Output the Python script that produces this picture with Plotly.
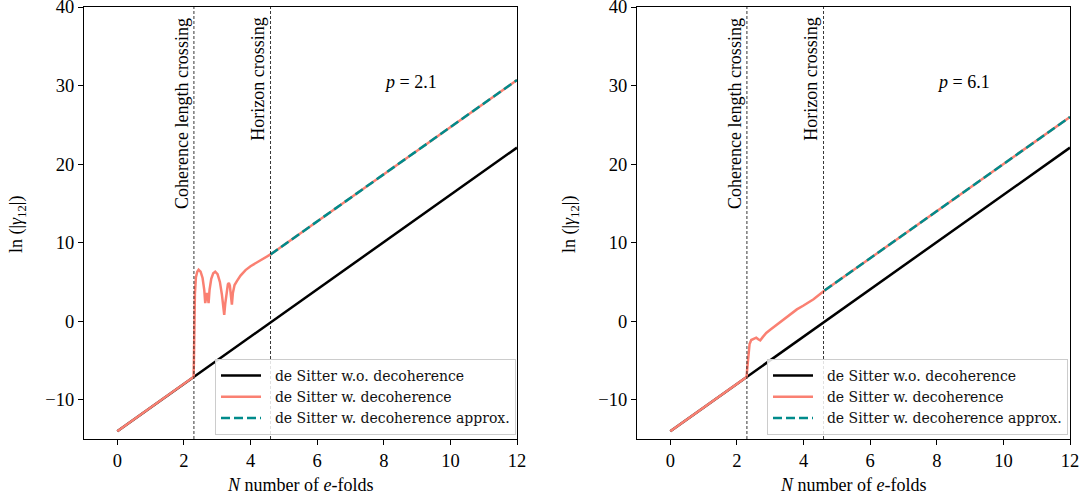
import plotly.graph_objects as go

# ---------------- data ----------------
# de Sitter without decoherence (straight line)
N_nodec = [0, 12]
y_nodec = [-14.0, 22.1]

# Left panel (p = 2.1): with decoherence
N_dec_left = [0, 2.29, 2.30, 2.31, 2.33, 2.36, 2.40, 2.44, 2.50, 2.56, 2.61, 2.64, 2.67, 2.69,
              2.71, 2.74, 2.77, 2.82, 2.88, 2.94, 3.01, 3.08, 3.14, 3.18, 3.21, 3.24, 3.28,
              3.32, 3.35, 3.38, 3.41, 3.44, 3.47, 3.52, 3.59, 3.70, 3.85, 4.00, 4.20, 4.40, 4.60, 12.0]
y_dec_left = [-14.0, -7.1, -5.0, -1.0, 3.5, 5.6, 6.3, 6.55, 6.3, 5.5, 4.0, 2.3, 3.3, 3.6,
              3.3, 2.3, 4.0, 5.4, 6.1, 6.3, 6.0, 5.0, 3.4, 1.8, 0.8, 2.2, 3.9,
              4.7, 4.86, 4.5, 3.3, 2.1, 3.6, 4.6, 5.1, 5.8, 6.5, 7.0, 7.5, 8.0, 8.5, 30.7]
N_approx_left = [4.60, 12.0]
y_approx_left = [8.5, 30.7]

# Right panel (p = 6.1): with decoherence
N_dec_right = [0, 2.29, 2.31, 2.34, 2.38, 2.43, 2.50, 2.58, 2.64, 2.70, 2.78, 2.88, 3.00,
               3.15, 3.30, 3.50, 3.80, 4.00, 4.30, 4.63, 12.0]
y_dec_right = [-14.0, -7.1, -6.0, -4.2, -2.9, -2.4, -2.25, -2.1, -2.3, -2.45, -2.0, -1.5, -1.1,
               -0.6, -0.2, 0.5, 1.5, 2.0, 2.8, 3.9, 26.0]
N_approx_right = [4.63, 12.0]
y_approx_right = [3.9, 26.0]

N_coherence = 2.30
N_horizon = 4.60
p_labels = ["<i>p</i> = 2.1", "<i>p</i> = 6.1"]
legend_names = ["de Sitter w.o. decoherence", "de Sitter w. decoherence", "de Sitter w. decoherence approx."]

x_ticks = [0, 2, 4, 6, 8, 10, 12]
y_ticks = [-10, 0, 10, 20, 30, 40]

# ---------------- style ----------------
FONT = "Liberation Serif"
LEGFONT = "DejaVu Serif"
BLACK = "#000000"
SALMON = "#FA8072"
TEAL = "#008B8B"
PAD = "\u00a0\u00a0"

W, H = 1089, 503
ML, MR, MT, MB = 84, 19, 7, 64
PW = W - ML - MR
PH = H - MT - MB


def px_x(px):
    return (px - ML) / PW


def px_y(py):
    return (H - MB - py) / PH


fig = go.Figure()

panels = [
    dict(xa="x", ya="y", xd=[0.0, px_x(517)], leg="legend",
         Nd=N_dec_left, yd=y_dec_left, Na=N_approx_left, ya_=y_approx_left, p=p_labels[0], xc=300, yl=17),
    dict(xa="x2", ya="y2", xd=[px_x(637), 1.0], leg="legend2",
         Nd=N_dec_right, yd=y_dec_right, Na=N_approx_right, ya_=y_approx_right, p=p_labels[1], xc=853, yl=570),
]

for i, pn in enumerate(panels):
    fig.add_trace(go.Scatter(x=N_nodec, y=y_nodec, mode="lines", line=dict(color=BLACK, width=2.5),
                             name=PAD + legend_names[0], xaxis=pn["xa"], yaxis=pn["ya"],
                             legend=pn["leg"]))
    fig.add_trace(go.Scatter(x=pn["Nd"], y=pn["yd"], mode="lines", line=dict(color=SALMON, width=2.5),
                             name=PAD + legend_names[1], xaxis=pn["xa"], yaxis=pn["ya"],
                             legend=pn["leg"]))
    fig.add_trace(go.Scatter(x=pn["Na"], y=pn["ya_"], mode="lines",
                             line=dict(color=TEAL, width=2.5, dash="9px,4px"),
                             name=PAD + legend_names[2], xaxis=pn["xa"], yaxis=pn["ya"],
                             legend=pn["leg"]))
    for xv in (N_coherence, N_horizon):
        fig.add_shape(type="line", x0=xv, x1=xv, y0=0, y1=1, xref=pn["xa"],
                      yref=pn["ya"] + " domain", line=dict(color=BLACK, width=0.8, dash="3px,2px"))
    fig.add_annotation(x=N_coherence, y=38.9, xref=pn["xa"], yref=pn["ya"], text="Coherence length crossing",
                       textangle=-90, showarrow=False, xanchor="right", yanchor="top", xshift=0,
                       font=dict(family=FONT, size=18, color=BLACK))
    fig.add_annotation(x=N_horizon, y=38.9, xref=pn["xa"], yref=pn["ya"], text="Horizon crossing",
                       textangle=-90, showarrow=False, xanchor="right", yanchor="top", xshift=0,
                       font=dict(family=FONT, size=18, color=BLACK))
    fig.add_annotation(x=7.95, y=30.4, xref=pn["xa"], yref=pn["ya"], text=pn["p"], showarrow=False,
                       xanchor="left", yanchor="middle", font=dict(family=FONT, size=18, color=BLACK))
    # axis titles
    fig.add_annotation(x=px_x(pn["xc"]), y=px_y(485), xref="paper", yref="paper",
                       text="<i>N</i> number of <i>e</i>-folds", showarrow=False,
                       xanchor="center", yanchor="middle", font=dict(family=FONT, size=18, color=BLACK))
    fig.add_annotation(x=px_x(pn["yl"]), y=px_y(225), xref="paper", yref="paper",
                       text="ln (|<i>γ</i><sub>12</sub>|)", showarrow=False, textangle=-90,
                       xanchor="center", yanchor="middle", font=dict(family=FONT, size=18, color=BLACK))

axis_common = dict(showgrid=False, zeroline=False, showline=True, linecolor=BLACK, linewidth=1.2,
                   mirror=True, ticks="outside", ticklen=5, tickwidth=1.2, tickcolor=BLACK,
                   automargin=False, ticklabeloverflow="allow",
                   tickfont=dict(family=FONT, size=18.5, color=BLACK))

fig.update_layout(
    xaxis=dict(domain=panels[0]["xd"], range=[-1, 12], tickvals=x_ticks, anchor="y", **axis_common),
    yaxis=dict(domain=[0, 1], range=[-15, 40], tickvals=y_ticks, anchor="x", **axis_common),
    xaxis2=dict(domain=panels[1]["xd"], range=[-1, 12], tickvals=x_ticks, anchor="y2", **axis_common),
    yaxis2=dict(domain=[0, 1], range=[-15, 40], tickvals=y_ticks, anchor="x2", **axis_common),
)

legend_common = dict(bgcolor="rgba(255,255,255,0.85)", bordercolor="#cccccc", borderwidth=1,
                     font=dict(family=LEGFONT, size=14, color="#111111"), xanchor="right", yanchor="bottom",
                     tracegroupgap=0, itemwidth=40, xref="paper", yref="paper")
fig.update_layout(
    legend=dict(x=px_x(516), y=px_y(435), **legend_common),
    legend2=dict(x=px_x(1068), y=px_y(435), **legend_common),
)

fig.update_layout(width=W, height=H, margin=dict(l=ML, r=MR, t=MT, b=MB, autoexpand=False),
                  plot_bgcolor="white", paper_bgcolor="white", showlegend=True)

fig.write_html("out.html", config={"displayModeBar": False},
               post_script="document.body.style.margin='0px';")
